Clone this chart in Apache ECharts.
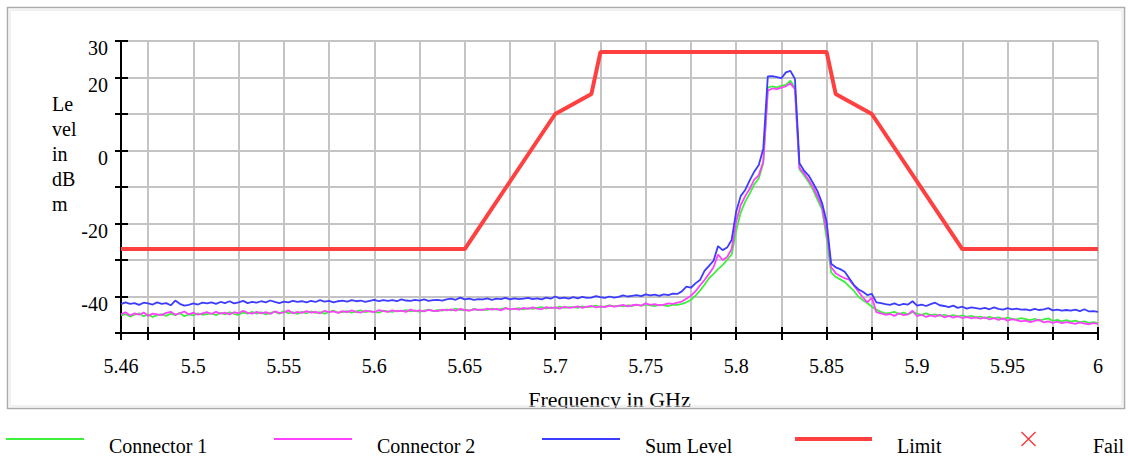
<!DOCTYPE html>
<html>
<head>
<meta charset="utf-8">
<script src="https://cdn.jsdelivr.net/npm/echarts@6/dist/echarts.min.js"></script>
<style>
  html, body { margin: 0; padding: 0; background: #fff; }
  #chart { width: 1128px; height: 457px; }
</style>
</head>
<body>
<div id="chart"></div>
<script>
// frequency samples: 5.46 .. 6.00 GHz, 0.0025 GHz apart (217 points)
var freqStart = 5.46;
var freqStep = 0.0025;

// Connector 1 (green), dBm, one row per 0.025 GHz
var connector1 = [
  -45.2,-44.8,-45.5,-45.0,-44.6,-45.4,-44.9,-45.6,-45.1,-44.8,
  -45.3,-44.7,-45.1,-44.5,-45.4,-44.9,-45.2,-44.6,-45.0,-44.8,
  -44.6,-45.1,-44.5,-44.9,-44.3,-44.8,-45.0,-44.4,-44.7,-44.2,
  -44.7,-44.3,-44.9,-44.5,-44.2,-44.7,-44.0,-44.6,-44.3,-44.8,
  -44.2,-44.6,-44.1,-44.5,-44.3,-44.7,-44.2,-43.9,-44.4,-44.3,
  -44.0,-44.4,-44.1,-43.8,-44.3,-44.0,-44.2,-44.4,-43.9,-44.1,
  -44.2,-43.9,-44.0,-43.7,-44.1,-43.8,-44.2,-43.9,-43.6,-44.0,
  -43.7,-43.9,-43.5,-43.8,-43.3,-43.7,-43.6,-43.9,-43.4,-43.7,
  -43.5,-43.7,-43.3,-43.6,-43.4,-43.2,-43.6,-43.4,-43.2,-43.5,
  -43.2,-43.4,-43.1,-42.9,-43.3,-43.0,-43.2,-42.8,-43.1,-42.9,
  -42.9,-43.1,-42.7,-42.9,-42.8,-42.5,-42.9,-42.7,-42.4,-42.7,
  -42.5,-42.7,-42.4,-42.6,-42.3,-42.5,-42.2,-42.4,-42.6,-42.3,
  -42.4,-42.6,-42.2,-42.3,-42.0,-41.6,-40.9,-39.8,-38.4,-36.8,
  -35.0,-33.8,-32.5,-31.4,-30.0,-28.5,-22.0,-17.0,-14.0,-11.8,
  -9.3,-7.6,-3.5,17.2,17.6,17.3,17.7,18.0,19.1,17.2,
  -5.2,-6.8,-8.6,-10.8,-13.5,-16.2,-24.0,-33.4,-34.6,-35.3,
  -36.0,-37.2,-38.4,-40.0,-41.0,-41.8,-42.8,-43.6,-44.2,-44.6,
  -44.5,-44.2,-44.8,-44.4,-44.9,-44.3,-44.7,-45.0,-44.6,-45.1,
  -44.9,-45.3,-45.0,-45.4,-45.1,-45.5,-45.2,-45.6,-45.3,-45.7,
  -45.5,-45.9,-45.6,-46.0,-45.7,-46.2,-45.8,-46.1,-46.3,-45.9,
  -46.2,-46.5,-46.1,-46.6,-46.3,-46.0,-46.7,-46.4,-46.8,-46.5,
  -46.9,-46.6,-47.1,-46.8,-47.2,-47.0,-47.3
];

// Connector 2 (magenta)
var connector2 = [
  -44.9,-44.3,-45.2,-44.6,-45.0,-44.4,-45.3,-44.7,-44.9,-45.1,
  -44.5,-44.2,-45.0,-44.6,-44.1,-44.9,-44.4,-45.0,-44.6,-44.3,
  -44.8,-44.2,-44.7,-44.4,-44.9,-44.3,-44.6,-43.9,-44.5,-44.7,
  -44.2,-44.6,-44.3,-44.8,-44.1,-44.5,-44.4,-43.8,-44.6,-44.2,
  -44.5,-44.0,-44.4,-44.2,-44.6,-43.9,-44.3,-44.1,-44.5,-44.0,
  -44.3,-43.8,-44.2,-44.4,-43.9,-44.1,-44.3,-43.7,-44.0,-44.2,
  -43.8,-44.1,-43.9,-44.2,-43.6,-44.0,-43.8,-44.1,-43.7,-43.9,
  -44.0,-43.6,-43.8,-43.5,-43.9,-43.4,-43.7,-43.9,-43.5,-43.6,
  -43.7,-43.3,-43.6,-43.4,-43.8,-43.2,-43.5,-43.3,-43.6,-43.1,
  -43.4,-43.0,-43.3,-43.5,-42.9,-43.2,-43.0,-43.3,-42.8,-43.1,
  -43.0,-42.7,-43.1,-42.8,-42.6,-43.0,-42.7,-42.9,-42.5,-42.8,
  -42.6,-42.3,-42.7,-42.4,-42.2,-42.5,-41.9,-42.3,-42.1,-42.4,
  -42.2,-41.9,-42.0,-41.7,-41.4,-40.6,-39.8,-38.6,-37.0,-35.5,
  -33.8,-32.0,-28.5,-30.0,-29.2,-27.0,-19.5,-15.0,-12.5,-10.5,
  -8.0,-6.8,-3.0,16.4,17.0,16.8,17.2,17.6,18.4,16.8,
  -4.8,-6.2,-8.0,-10.0,-12.6,-15.5,-22.0,-32.0,-33.6,-34.4,
  -35.0,-35.4,-37.0,-38.6,-40.2,-41.6,-40.3,-44.3,-44.6,-45.0,
  -44.8,-45.3,-44.6,-45.1,-44.9,-43.9,-45.4,-45.0,-45.6,-45.2,
  -45.5,-45.0,-45.7,-45.3,-45.8,-45.4,-45.9,-45.6,-46.0,-45.7,
  -46.1,-45.7,-46.3,-45.9,-46.4,-46.0,-46.6,-46.2,-46.5,-46.8,
  -46.6,-47.0,-46.7,-46.4,-47.1,-46.8,-47.2,-46.9,-47.3,-47.0,
  -47.2,-47.5,-47.1,-47.4,-47.6,-47.3,-47.5
];

// Sum Level (blue)
var sumLevel = [
  -42.1,-41.6,-42.0,-41.8,-42.3,-41.7,-41.9,-42.2,-41.6,-42.0,
  -41.8,-42.4,-41.1,-42.0,-42.5,-42.3,-41.9,-42.2,-41.7,-41.9,
  -41.6,-42.0,-41.5,-41.8,-41.3,-41.9,-41.6,-41.2,-41.8,-41.5,
  -41.7,-41.3,-41.6,-41.1,-41.5,-41.8,-41.4,-41.6,-41.2,-41.5,
  -41.3,-41.6,-41.2,-41.5,-41.0,-41.4,-41.2,-41.6,-41.3,-41.1,
  -41.4,-41.0,-41.3,-41.1,-41.5,-41.2,-40.9,-41.3,-41.0,-41.2,
  -41.0,-41.3,-40.8,-41.1,-41.2,-40.9,-41.1,-40.8,-41.2,-41.0,
  -40.9,-41.1,-40.8,-40.6,-40.9,-40.3,-40.8,-40.6,-40.9,-40.7,
  -40.8,-40.5,-40.9,-40.6,-40.7,-40.4,-40.8,-40.5,-40.7,-40.6,
  -40.4,-40.7,-40.5,-40.8,-40.3,-40.6,-40.0,-40.5,-40.3,-40.6,
  -40.2,-40.5,-40.1,-40.4,-40.3,-39.9,-40.2,-40.4,-40.0,-40.3,
  -40.1,-39.7,-40.0,-39.8,-39.6,-39.9,-39.4,-39.7,-39.5,-39.8,
  -39.4,-39.6,-39.2,-39.3,-38.6,-37.3,-37.6,-36.4,-35.5,-33.0,
  -31.6,-30.2,-26.2,-27.3,-26.6,-24.5,-16.8,-12.5,-10.8,-8.2,
  -5.8,-4.0,0.5,20.3,20.4,20.1,19.8,21.4,21.8,19.6,
  -3.5,-5.5,-6.8,-8.9,-11.2,-14.4,-19.5,-31.0,-32.0,-32.5,
  -33.2,-35.0,-36.8,-38.0,-38.7,-39.6,-39.3,-41.6,-41.8,-42.1,
  -42.3,-41.9,-42.4,-42.0,-42.2,-41.3,-42.5,-42.2,-42.6,-42.1,
  -41.7,-42.4,-42.6,-42.9,-42.5,-43.1,-42.8,-43.3,-43.0,-43.2,
  -43.4,-43.1,-43.5,-43.0,-43.4,-43.6,-43.2,-43.5,-43.3,-43.6,
  -43.5,-43.8,-43.4,-43.7,-43.5,-43.2,-43.8,-43.6,-43.9,-43.7,
  -43.9,-43.6,-44.0,-43.5,-44.1,-44.0,-44.2
];

// Limit mask corners
var limitFreq = [5.46, 5.65, 5.70, 5.72, 5.725, 5.85, 5.855, 5.875, 5.925, 6.0];
var limitLevel = [-27, -27, 10, 15.5, 27, 27, 15.5, 10, -27, -27];

// axis ticks / labels
var xTicks = [5.46, 5.475, 5.5, 5.525, 5.55, 5.575, 5.6, 5.625, 5.65, 5.675, 5.7, 5.725,
              5.75, 5.775, 5.8, 5.825, 5.85, 5.875, 5.9, 5.925, 5.95, 5.975, 6];
var xLabels = [5.46, 5.5, 5.55, 5.6, 5.65, 5.7, 5.75, 5.8, 5.85, 5.9, 5.95, 6];
var yLabels = [30, 20, 0, -20, -40];

var serif = '"Liberation Serif", "Times New Roman", serif';

function pairs(values) {
  var out = [];
  for (var i = 0; i < values.length; i++) {
    out.push([+(freqStart + i * freqStep).toFixed(4), values[i]]);
  }
  return out;
}

var limitData = [];
for (var i = 0; i < limitFreq.length; i++) {
  limitData.push([limitFreq[i], limitLevel[i]]);
}

var chart = echarts.init(document.getElementById('chart'), null, { renderer: 'svg' });

function legendItem(name, left, extra) {
  var lg = {
    data: [name],
    left: left,
    top: 422,
    padding: 0,
    selectedMode: false,
    icon: 'rect',
    itemWidth: 78,
    itemHeight: 2,
    // blank first line pushes the label a little below the line sample
    formatter: function (n) { return '\n' + n; },
    textStyle: { fontFamily: serif, fontSize: 20, color: '#000', lineHeight: 14, padding: [0, 0, 0, 20] }
  };
  for (var k in extra) { lg[k] = extra[k]; }
  return lg;
}

var option = {
  animation: false,
  backgroundColor: '#fff',
  grid: { left: 121, right: 30, top: 41, bottom: 124 },
  xAxis: [{
    type: 'value',
    min: 5.46,
    max: 6,
    position: 'bottom',
    name: 'Frequency in GHz',
    nameLocation: 'middle',
    nameGap: 55,
    nameTextStyle: { fontFamily: serif, fontSize: 22, color: '#000' },
    axisLine: { onZero: false, lineStyle: { color: '#000', width: 2 } },
    axisTick: { customValues: xTicks, length: 7, lineStyle: { color: '#000', width: 2 } },
    axisLabel: {
      customValues: xLabels,
      margin: 23,
      fontFamily: serif, fontSize: 20, color: '#000',
      formatter: function (v) { return String(+v.toFixed(3)); }
    },
    splitLine: { show: true, lineStyle: { color: '#c4c4c4', width: 2 } }
  }, {
    type: 'value',
    min: 5.46,
    max: 6,
    position: 'bottom',
    axisLine: { show: false, onZero: false },
    axisTick: { customValues: xTicks, inside: true, length: 6, lineStyle: { color: '#000', width: 2 } },
    axisLabel: { show: false },
    splitLine: { show: false }
  }],
  yAxis: [{
    type: 'value',
    min: -50,
    max: 30,
    interval: 10,
    position: 'left',
    axisLine: { show: true, onZero: false, lineStyle: { color: '#000', width: 2 } },
    axisTick: { show: true, length: 6, lineStyle: { color: '#000', width: 2 } },
    axisLabel: {
      customValues: yLabels,
      margin: 13,
      verticalAlign: 'top',
      lineHeight: 14,
      fontFamily: serif, fontSize: 20, color: '#000'
    },
    splitLine: { show: true, lineStyle: { color: '#c4c4c4', width: 2 } }
  }, {
    type: 'value',
    min: -50,
    max: 30,
    interval: 10,
    position: 'left',
    axisLine: { show: false, onZero: false },
    axisTick: { show: true, inside: true, length: 7, lineStyle: { color: '#000', width: 2 } },
    axisLabel: { show: false },
    splitLine: { show: false }
  }],
  legend: [
    legendItem('Connector 1', 6, {}),
    legendItem('Connector 2', 274, {}),
    legendItem('Sum Level', 542, {}),
    legendItem('Limit', 795, { itemHeight: 4, itemWidth: 77 }),
    legendItem('Fail', 1021, {
      icon: 'path://M0,1 L1,0 L8,7 L15,0 L16,1 L9,8 L16,15 L15,16 L8,9 L1,16 L0,15 L7,8 Z',
      itemWidth: 15, itemHeight: 15,
      textStyle: { fontFamily: serif, fontSize: 20, color: '#000', lineHeight: 14, padding: [0, 0, 0, 52] }
    })
  ],
  graphic: [
    {
      type: 'text', left: 52, top: 91, z: 5,
      style: { text: 'Le\nvel\nin\ndB\nm', fontFamily: serif, fontSize: 20, lineHeight: 25, fill: '#000' }
    },
    { type: 'rect', z: 5, shape: { x: 0, y: 409, width: 1128, height: 14 }, style: { fill: '#fff' } },
    { type: 'rect', z: 6, shape: { x: 7.5, y: 7.5, width: 1117, height: 401 }, style: { fill: 'none', stroke: '#ababab', lineWidth: 1.5 } },
    { type: 'rect', z: 6, shape: { x: 10, y: 10, width: 1112, height: 396 }, style: { fill: 'none', stroke: '#e4e4e4', lineWidth: 1 } }
  ],
  series: [
    {
      name: 'Connector 1', type: 'line', showSymbol: false, data: pairs(connector1),
      itemStyle: { color: '#3cf03c' }, lineStyle: { color: '#3cf03c', width: 1.8 }
    },
    {
      name: 'Connector 2', type: 'line', showSymbol: false, data: pairs(connector2),
      itemStyle: { color: '#ff40ff' }, lineStyle: { color: '#ff40ff', width: 1.8 }
    },
    {
      name: 'Sum Level', type: 'line', showSymbol: false, data: pairs(sumLevel),
      itemStyle: { color: '#3c3cff' }, lineStyle: { color: '#3c3cff', width: 1.8 }
    },
    {
      name: 'Limit', type: 'line', showSymbol: false, data: limitData,
      itemStyle: { color: '#ff4040' }, lineStyle: { color: '#ff4040', width: 4 }
    },
    {
      name: 'Fail', type: 'scatter', data: [],
      itemStyle: { color: '#ff0000' }
    }
  ]
};

chart.setOption(option);
</script>
</body>
</html>
